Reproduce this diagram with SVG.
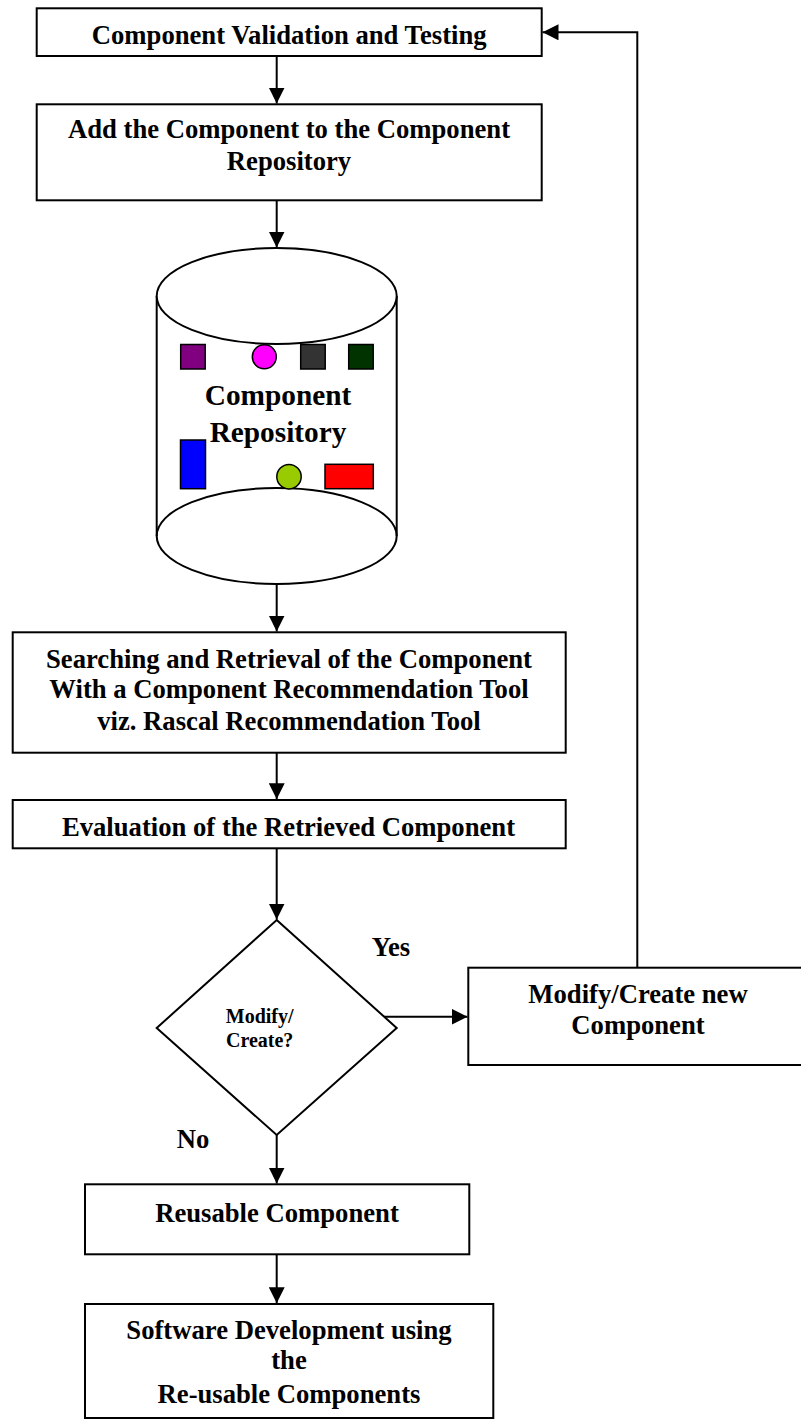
<svg xmlns="http://www.w3.org/2000/svg" width="801" height="1420" viewBox="0 0 801 1420">
  <style>
    .box { fill: #ffffff; stroke: #000000; stroke-width: 2; }
    .shape { stroke: #000000; stroke-width: 1.5; }
    .lbl { font-family: "Liberation Serif", "Times New Roman", serif; font-weight: bold; font-size: 26.67px; fill: #000000; text-anchor: middle; }
    .big { font-size: 29.3px; }
    .small { font-size: 20px; }
    .start { text-anchor: start; }
    .conn { fill: none; stroke: #000000; stroke-width: 2; }
  </style>
  <defs>
    <marker id="arrow" markerUnits="userSpaceOnUse" markerWidth="16" markerHeight="16" refX="16" refY="8" orient="auto">
      <path d="M0,0 L16,8 L0,16 Z" fill="#000000"/>
    </marker>
  </defs>

  <rect width="801" height="1420" fill="#ffffff"/>

  <!-- connectors -->
  <g id="connectors">
    <line class="conn" x1="276.7" y1="56" x2="276.7" y2="103.5" marker-end="url(#arrow)"/>
    <line class="conn" x1="276.7" y1="200.3" x2="276.7" y2="247.5" marker-end="url(#arrow)"/>
    <line class="conn" x1="276.7" y1="584" x2="276.7" y2="631.5" marker-end="url(#arrow)"/>
    <line class="conn" x1="276.7" y1="752.7" x2="276.7" y2="799.2" marker-end="url(#arrow)"/>
    <line class="conn" x1="276.7" y1="848.3" x2="276.7" y2="919.5" marker-end="url(#arrow)"/>
    <line class="conn" x1="372.3" y1="1016.7" x2="467.5" y2="1016.7" marker-end="url(#arrow)"/>
    <polyline class="conn" points="637.3,967.7 637.3,32.3 542.5,32.3" marker-end="url(#arrow)"/>
    <line class="conn" x1="276.7" y1="1135" x2="276.7" y2="1183.5" marker-end="url(#arrow)"/>
    <line class="conn" x1="276.7" y1="1254.3" x2="276.7" y2="1303.2" marker-end="url(#arrow)"/>
  </g>

  <g id="validation">
    <rect class="box" x="36.7" y="8.3" width="505" height="47.7"/>
    <text class="lbl" x="289.2" y="44.3">Component Validation and Testing</text>
  </g>

  <g id="add-to-repository">
    <rect class="box" x="36.7" y="104.3" width="505" height="96"/>
    <text class="lbl" x="289" y="138.3">Add the Component to the Component</text>
    <text class="lbl" x="289" y="170">Repository</text>
  </g>

  <g id="repository">
    <ellipse class="box" cx="276.7" cy="536" rx="120" ry="48"/>
    <line class="conn" x1="156.7" y1="296" x2="156.7" y2="536"/>
    <line class="conn" x1="396.7" y1="296" x2="396.7" y2="536"/>
    <ellipse class="box" cx="276.7" cy="296" rx="120" ry="48"/>
    <rect class="shape" x="180.7" y="344.5" width="24.5" height="24.5" fill="#800080"/>
    <circle class="shape" cx="264.3" cy="356.7" r="12" fill="#ff00ff"/>
    <rect class="shape" x="300.7" y="344.5" width="24.5" height="24.5" fill="#333333"/>
    <rect class="shape" x="348.7" y="344.5" width="24.5" height="24.5" fill="#003300"/>
    <rect class="shape" x="180.5" y="440" width="25" height="48.7" fill="#0000ff"/>
    <circle class="shape" cx="289" cy="476.7" r="12.2" fill="#99cc00"/>
    <rect class="shape" x="325" y="464.3" width="48.3" height="24.4" fill="#ff0000"/>
    <text class="lbl big" x="278" y="405">Component</text>
    <text class="lbl big" x="278" y="441.7">Repository</text>
  </g>

  <g id="search-retrieval">
    <rect class="box" x="12.7" y="632.3" width="553" height="120.4"/>
    <text class="lbl" x="289" y="667.7">Searching and Retrieval of the Component</text>
    <text class="lbl" x="289" y="698.3">With a Component Recommendation Tool</text>
    <text class="lbl" x="289" y="730">viz. Rascal Recommendation Tool</text>
  </g>

  <g id="evaluation">
    <rect class="box" x="12.7" y="800" width="553" height="48.3"/>
    <text class="lbl" x="288.5" y="836">Evaluation of the Retrieved Component</text>
  </g>

  <g id="decision">
    <polygon class="box" points="276.7,920 396.7,1028 276.7,1135 156.7,1028"/>
    <text class="lbl small" x="259.7" y="1023.3">Modify/</text>
    <text class="lbl small" x="259.7" y="1046.7">Create?</text>
  </g>

  <g id="branch-labels">
    <text class="lbl start" x="371.7" y="956">Yes</text>
    <text class="lbl start" x="176.7" y="1147.7">No</text>
  </g>

  <g id="modify-create">
    <rect class="box" x="468.3" y="967.7" width="335" height="97.3"/>
    <text class="lbl" x="638" y="1003.3">Modify/Create new</text>
    <text class="lbl" x="638" y="1034">Component</text>
  </g>

  <g id="reusable">
    <rect class="box" x="85" y="1184.3" width="384.3" height="70"/>
    <text class="lbl" x="277" y="1221.7">Reusable Component</text>
  </g>

  <g id="software-development">
    <rect class="box" x="85" y="1304" width="408.3" height="114"/>
    <text class="lbl" x="289" y="1339.3">Software Development using</text>
    <text class="lbl" x="289" y="1369.3">the</text>
    <text class="lbl" x="289" y="1402.7">Re-usable Components</text>
  </g>
</svg>
